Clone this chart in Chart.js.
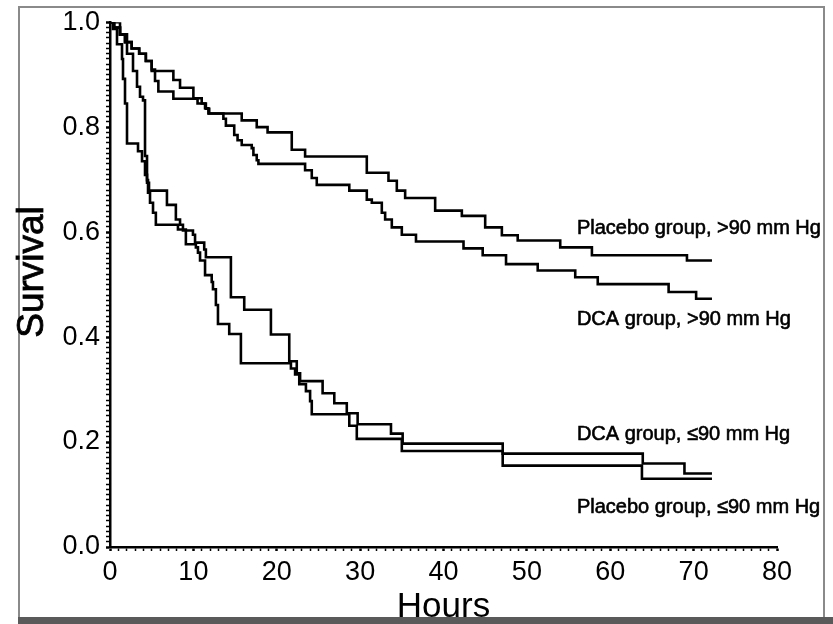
<!DOCTYPE html>
<html>
<head>
<meta charset="utf-8">
<script src="https://cdn.jsdelivr.net/npm/chart.js@4.4.1/dist/chart.umd.min.js"></script>
<style>
  html, body { margin: 0; padding: 0; background: #fff; }
  #wrap { position: relative; width: 833px; height: 624px; overflow: hidden; }
  #frame { position: absolute; left: 18px; top: 6px; width: 803px; height: 620px;
           border: 2px solid #8a8a8a; border-bottom: none; }
  #band { position: absolute; left: 18px; top: 617px; width: 815px; height: 7px; background: #5a5a5a; }
  #chart { position: absolute; left: 0; top: 0; }
</style>
</head>
<body>
<div id="wrap">
  <div id="frame"></div>
  <div id="band"></div>
  <canvas id="chart" width="833" height="624"></canvas>
</div>
<script>
(function() {

    // Kaplan-Meier steps: time (hours) and survival after each drop
    const placeboHighT = [0, 0.5, 1.2, 1.8, 2.6, 3.5, 4.3, 5.0, 7.6, 8.4, 10.0, 11.0, 11.5, 11.9, 15.8, 17.6, 18.9, 21.8, 23.4, 30.8, 33.4, 34.4, 35.4, 39.0, 42.2, 45.0, 47.0, 48.9, 54.0, 57.8, 69.2, 72.2]
    const placeboHighS = [1.0, 0.99, 0.976, 0.962, 0.95, 0.94, 0.926, 0.907, 0.89, 0.875, 0.855, 0.845, 0.835, 0.826, 0.813, 0.80, 0.79, 0.757, 0.744, 0.713, 0.698, 0.679, 0.665, 0.641, 0.631, 0.609, 0.594, 0.584, 0.571, 0.556, 0.546, 0.546]

    const dcaHighT = [0, 0.5, 1.2, 1.8, 2.6, 3.5, 4.3, 5.0, 5.4, 5.8, 7.6, 10.5, 11.4, 11.8, 13.6, 13.9, 14.9, 15.3, 15.8, 17.0, 17.2, 17.6, 17.8, 23.4, 24.2, 24.8, 28.7, 30.8, 31.4, 32.6, 33.0, 33.8, 35.0, 36.7, 42.4, 44.7, 47.5, 51.3, 55.8, 58.5, 67.0, 70.3, 72.2]
    const dcaHighS = [1.0, 0.99, 0.976, 0.962, 0.95, 0.94, 0.926, 0.91, 0.888, 0.868, 0.854, 0.845, 0.836, 0.826, 0.816, 0.803, 0.785, 0.775, 0.766, 0.76, 0.747, 0.737, 0.73, 0.718, 0.703, 0.69, 0.679, 0.662, 0.656, 0.637, 0.624, 0.609, 0.595, 0.582, 0.569, 0.556, 0.539, 0.527, 0.514, 0.501, 0.486, 0.473, 0.473]

    const dcaLowT = [0, 0.36, 0.84, 1.44, 1.56, 1.8, 2.04, 3.36, 3.84, 4.2, 4.44, 4.68, 6.83, 7.9, 8.4, 8.75, 9.95, 10.2, 11.3, 11.5, 14.5, 16.1, 19.3, 21.5, 22.4, 22.8, 25.5, 26.9, 28.4, 29.7, 33.7, 35.1, 47.1, 63.9, 68.9, 72.2]
    const dcaLowS = [1.0, 0.987, 0.958, 0.93, 0.892, 0.845, 0.769, 0.754, 0.735, 0.709, 0.694, 0.679, 0.652, 0.624, 0.614, 0.603, 0.595, 0.58, 0.567, 0.552, 0.476, 0.452, 0.405, 0.354, 0.331, 0.316, 0.293, 0.274, 0.255, 0.234, 0.216, 0.197, 0.178, 0.159, 0.14, 0.14]

    const placeboLowT = [0, 1.2, 2.04, 2.76, 3.24, 3.6, 3.96, 4.2, 4.44, 4.56, 4.8, 5.16, 5.5, 8.15, 9.1, 10.3, 10.55, 10.8, 11.4, 12.2, 12.35, 12.7, 12.95, 14.3, 15.7, 21.7, 22.2, 22.7, 23.5, 24.0, 24.2, 28.7, 29.6, 35.0, 47.1, 63.8, 72.2]
    const placeboLowS = [1.0, 0.977, 0.94, 0.907, 0.877, 0.858, 0.851, 0.745, 0.699, 0.675, 0.656, 0.637, 0.614, 0.605, 0.577, 0.571, 0.561, 0.546, 0.518, 0.505, 0.491, 0.461, 0.425, 0.406, 0.35, 0.34, 0.329, 0.31, 0.297, 0.278, 0.253, 0.231, 0.206, 0.183, 0.155, 0.13, 0.13]

    const groupNames = ['Placebo group, >90 mm Hg', 'DCA group, >90 mm Hg', 'DCA group, \u226490 mm Hg', 'Placebo group, \u226490 mm Hg']
    const xTicks = [0, 10, 20, 30, 40, 50, 60, 70, 80]
    const yTicks = [0.0, 0.2, 0.4, 0.6, 0.8, 1.0]

    const FONT = '"Liberation Sans", Arial, Helvetica, sans-serif'

    function el(cssSelector){
        return document.querySelector(cssSelector)
    }

    function pairs(t, s){
        return t.map((v, i) => ({x: v, y: s[i]}))
    }

    function isYMajor(v){
        return yTicks.some(t => Math.abs(t - v) < 1e-6)
    }

    // where the curve names sit, in data units
    const labelSpots = [[56, 0.607], [56, 0.433], [56, 0.214], [56, 0.075]]

    // scanned text looks heavier, so fill + a thin stroke
    function heavyText(ctx, txt, x, y){
        ctx.fillText(txt, x, y)
        ctx.strokeText(txt, x, y)
    }

    const curveLabels = {
        id: 'curveLabels',
        afterDraw(chart){
            const ctx = chart.ctx
            const x = chart.scales.x, y = chart.scales.y
            ctx.save()
            ctx.fillStyle = '#000'
            ctx.strokeStyle = '#000'
            ctx.lineWidth = 0.6
            ctx.font = '20px ' + FONT
            ctx.textBaseline = 'middle'
            ctx.textAlign = 'left'
            groupNames.forEach((name, i) => {
                heavyText(ctx, name, x.getPixelForValue(labelSpots[i][0]), y.getPixelForValue(labelSpots[i][1]))
            })
            // y axis title
            ctx.translate(33, y.getPixelForValue(0.524))
            ctx.rotate(-Math.PI / 2)
            ctx.textAlign = 'center'
            ctx.font = '37px ' + FONT
            ctx.lineWidth = 0.8
            heavyText(ctx, 'Survival', 0, 0)
            ctx.restore()
        }
    }

    function line(data){
        return {
            data: data,
            stepped: true,
            borderColor: '#000',
            borderWidth: 2.6,
            pointRadius: 0,
            fill: false,
            borderJoinStyle: 'miter'
        }
    }

    new Chart(el('#chart').getContext('2d'), {
        type: 'line',
        data: {
            datasets: [
                line(pairs(placeboHighT, placeboHighS)),
                line(pairs(dcaHighT, dcaHighS)),
                line(pairs(dcaLowT, dcaLowS)),
                line(pairs(placeboLowT, placeboLowS))
            ]
        },
        options: {
            responsive: false,
            animation: false,
            layout: { padding: { left: 12, right: 56, top: 18, bottom: 0 } },
            plugins: { legend: { display: false }, tooltip: { enabled: false } },
            scales: {
                x: {
                    type: 'linear',
                    min: 0, max: 80,
                    afterFit: s => { s.height = 77 },
                    border: { display: true, color: '#000', width: 2.5 },
                    grid: {
                        drawOnChartArea: false, drawTicks: true, tickLength: 4, tickColor: '#000',
                        tickWidth: c => (c.tick && xTicks.includes(Math.round(c.tick.value))) ? 2.5 : 1.5
                    },
                    ticks: {
                        stepSize: 1, autoSkip: false, maxRotation: 0, padding: 5,
                        color: '#000', font: { family: FONT, size: 27 },
                        callback: v => xTicks.includes(Math.round(v)) ? String(Math.round(v)) : ''
                    },
                    title: {
                        display: true, text: 'Hours', color: '#000',
                        font: { family: FONT, size: 35 }, padding: { top: 0, bottom: -4 }
                    }
                },
                y: {
                    min: 0, max: 1,
                    afterFit: s => { s.width = 98 },
                    border: { display: true, color: '#000', width: 2.5 },
                    grid: {
                        drawOnChartArea: false, drawTicks: true, tickLength: 4, tickColor: '#000',
                        tickWidth: c => (c.tick && isYMajor(c.tick.value)) ? 2.5 : 1.5
                    },
                    ticks: {
                        stepSize: 0.01, autoSkip: false, padding: 6,
                        color: '#000', font: { family: FONT, size: 27 },
                        callback: v => isYMajor(v) ? v.toFixed(1) : ''
                    }
                }
            }
        },
        plugins: [curveLabels]
    })

}())
</script>
</body>
</html>
